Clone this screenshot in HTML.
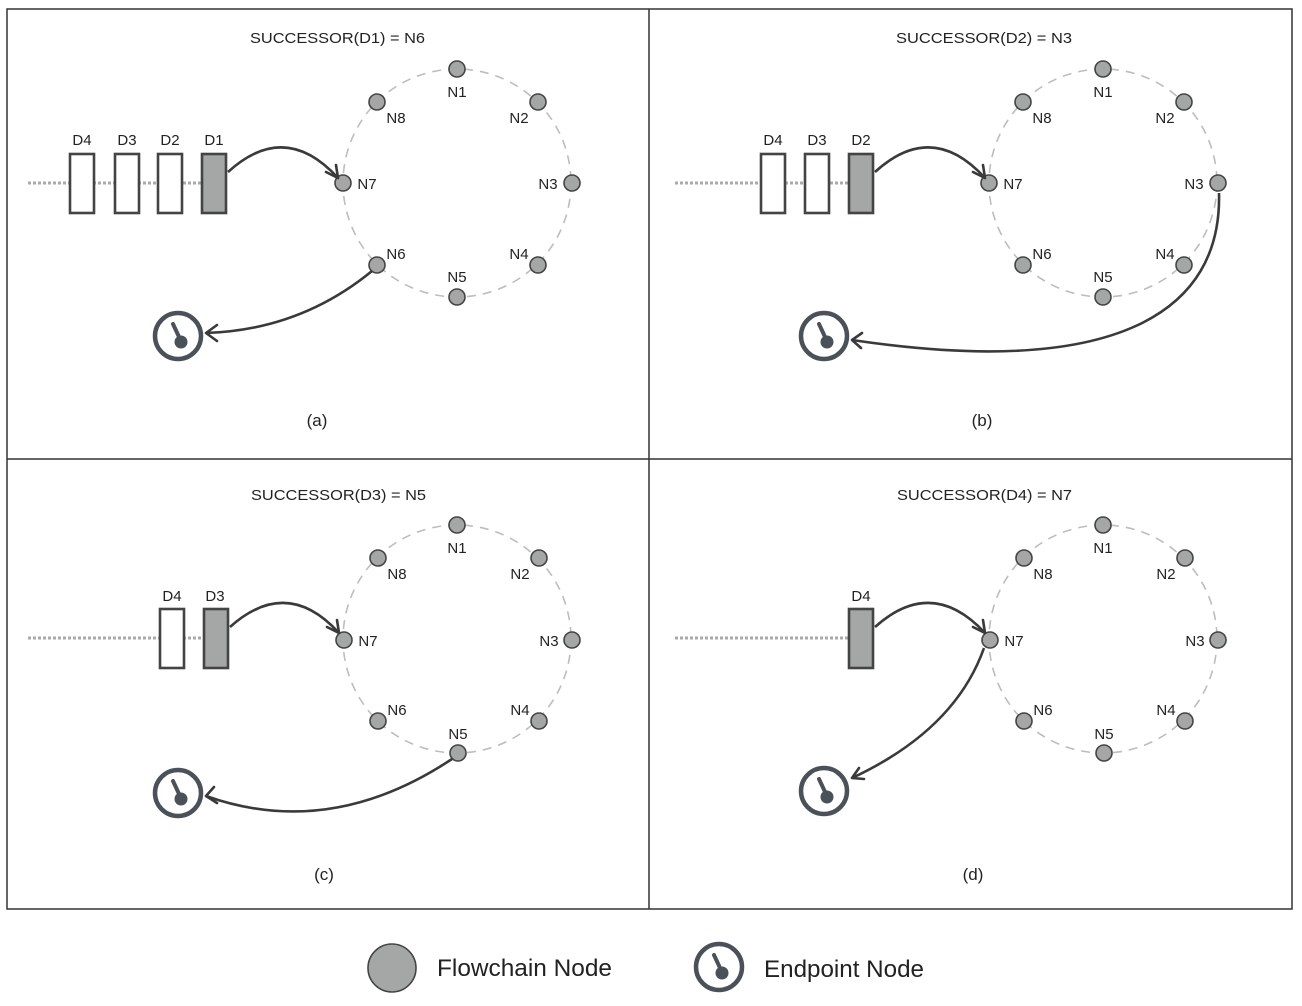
<!DOCTYPE html>
<html><head><meta charset="utf-8"><style>
html,body{margin:0;padding:0;background:#fff;}
svg{display:block;}
text{font-family:"Liberation Sans",sans-serif;fill:#222;}
.lbl{font-size:15px;}
.t{font-size:15px;}
.ring{fill:none;stroke:#bdbdbd;stroke-width:1.6;stroke-dasharray:9 7;}
.nd{fill:#a4a7a5;stroke:#444;stroke-width:1.6;}
.box{fill:#fff;stroke:#444;stroke-width:2.6;}
.boxf{fill:#a4a7a5;stroke:#444;stroke-width:2.6;}
.dot{stroke:#aaa;stroke-width:3;stroke-dasharray:3 2;}
.arr{fill:none;stroke:#3a3a3a;stroke-width:2.6;}
.ah{fill:none;stroke:#3a3a3a;stroke-width:2.6;stroke-linecap:round;stroke-linejoin:round;}
</style></head><body>
<svg width="1302" height="1006" viewBox="0 0 1302 1006" xmlns="http://www.w3.org/2000/svg">
<rect x="0" y="0" width="1302" height="1006" fill="#fff"/>
<rect x="7" y="9" width="1285" height="900" fill="none" stroke="#333" stroke-width="1.5"/>
<line x1="649" y1="9" x2="649" y2="909" stroke="#333" stroke-width="1.5"/>
<line x1="7" y1="459" x2="1292" y2="459" stroke="#333" stroke-width="1.5"/>

<!-- Panel a -->
<g transform="translate(457,183)">
<circle class="ring" r="114"/>
<circle class="nd" cx="0" cy="-114" r="8"/><circle class="nd" cx="81" cy="-81" r="8"/>
<circle class="nd" cx="115" cy="0" r="8"/><circle class="nd" cx="81" cy="82" r="8"/>
<circle class="nd" cx="0" cy="114" r="8"/><circle class="nd" cx="-80" cy="82" r="8"/>
<circle class="nd" cx="-114" cy="0" r="8"/><circle class="nd" cx="-80" cy="-81" r="8"/>
<text class="lbl" x="0" y="-86" text-anchor="middle">N1</text>
<text class="lbl" x="62" y="-60" text-anchor="middle">N2</text>
<text class="lbl" x="91" y="6" text-anchor="middle">N3</text>
<text class="lbl" x="62" y="76" text-anchor="middle">N4</text>
<text class="lbl" x="0" y="99" text-anchor="middle">N5</text>
<text class="lbl" x="-61" y="76" text-anchor="middle">N6</text>
<text class="lbl" x="-90" y="6" text-anchor="middle">N7</text>
<text class="lbl" x="-61" y="-60" text-anchor="middle">N8</text>
</g>
<text class="t" x="250" y="43" textLength="175" lengthAdjust="spacingAndGlyphs">SUCCESSOR(D1) = N6</text>
<line class="dot" x1="28" y1="183" x2="202" y2="183"/>
<rect class="box" x="70" y="154" width="24" height="59"/>
<rect class="box" x="115" y="154" width="24" height="59"/>
<rect class="box" x="158" y="154" width="24" height="59"/>
<rect class="boxf" x="202" y="154" width="24" height="59"/>
<text class="lbl" x="82" y="145" text-anchor="middle">D4</text>
<text class="lbl" x="127" y="145" text-anchor="middle">D3</text>
<text class="lbl" x="170" y="145" text-anchor="middle">D2</text>
<text class="lbl" x="214" y="145" text-anchor="middle">D1</text>
<path class="arr" d="M228,172 Q285,120 338,178"/>
<path class="ah" d="M326,172 L338,178 L336,165"/>
<path class="arr" d="M372,271 Q300,330 206,333"/>
<path class="ah" d="M217,325 L206,333 L217,341"/>
<text class="lbl" x="317" y="426" text-anchor="middle" style="font-size:17px">(a)</text>

<!-- Panel b -->
<g transform="translate(1103,183)">
<circle class="ring" r="114"/>
<circle class="nd" cx="0" cy="-114" r="8"/><circle class="nd" cx="81" cy="-81" r="8"/>
<circle class="nd" cx="115" cy="0" r="8"/><circle class="nd" cx="81" cy="82" r="8"/>
<circle class="nd" cx="0" cy="114" r="8"/><circle class="nd" cx="-80" cy="82" r="8"/>
<circle class="nd" cx="-114" cy="0" r="8"/><circle class="nd" cx="-80" cy="-81" r="8"/>
<text class="lbl" x="0" y="-86" text-anchor="middle">N1</text>
<text class="lbl" x="62" y="-60" text-anchor="middle">N2</text>
<text class="lbl" x="91" y="6" text-anchor="middle">N3</text>
<text class="lbl" x="62" y="76" text-anchor="middle">N4</text>
<text class="lbl" x="0" y="99" text-anchor="middle">N5</text>
<text class="lbl" x="-61" y="76" text-anchor="middle">N6</text>
<text class="lbl" x="-90" y="6" text-anchor="middle">N7</text>
<text class="lbl" x="-61" y="-60" text-anchor="middle">N8</text>
</g>
<text class="t" x="896" y="43" textLength="176" lengthAdjust="spacingAndGlyphs">SUCCESSOR(D2) = N3</text>
<line class="dot" x1="675" y1="183" x2="849" y2="183"/>
<rect class="box" x="761" y="154" width="24" height="59"/>
<rect class="box" x="805" y="154" width="24" height="59"/>
<rect class="boxf" x="849" y="154" width="24" height="59"/>
<text class="lbl" x="773" y="145" text-anchor="middle">D4</text>
<text class="lbl" x="817" y="145" text-anchor="middle">D3</text>
<text class="lbl" x="861" y="145" text-anchor="middle">D2</text>
<path class="arr" d="M875,172 Q932,120 985,178"/>
<path class="ah" d="M973,172 L985,178 L983,165"/>
<path class="arr" d="M1219,193 C1222,310 1120,380 852,340"/>
<path class="ah" d="M862,333 L852,340 L861,348"/>
<text class="lbl" x="982" y="426" text-anchor="middle" style="font-size:17px">(b)</text>

<!-- Panel c -->
<g transform="translate(457,639)">
<circle class="ring" r="114"/>
<circle class="nd" cx="0" cy="-114" r="8"/><circle class="nd" cx="82" cy="-81" r="8"/>
<circle class="nd" cx="115" cy="1" r="8"/><circle class="nd" cx="82" cy="82" r="8"/>
<circle class="nd" cx="1" cy="114" r="8"/><circle class="nd" cx="-79" cy="82" r="8"/>
<circle class="nd" cx="-113" cy="1" r="8"/><circle class="nd" cx="-79" cy="-81" r="8"/>
<text class="lbl" x="0" y="-86" text-anchor="middle">N1</text>
<text class="lbl" x="63" y="-60" text-anchor="middle">N2</text>
<text class="lbl" x="92" y="7" text-anchor="middle">N3</text>
<text class="lbl" x="63" y="76" text-anchor="middle">N4</text>
<text class="lbl" x="1" y="100" text-anchor="middle">N5</text>
<text class="lbl" x="-60" y="76" text-anchor="middle">N6</text>
<text class="lbl" x="-89" y="7" text-anchor="middle">N7</text>
<text class="lbl" x="-60" y="-60" text-anchor="middle">N8</text>
</g>
<text class="t" x="251" y="500" textLength="175" lengthAdjust="spacingAndGlyphs">SUCCESSOR(D3) = N5</text>
<line class="dot" x1="28" y1="638" x2="204" y2="638"/>
<rect class="box" x="160" y="609" width="24" height="59"/>
<rect class="boxf" x="204" y="609" width="24" height="59"/>
<text class="lbl" x="172" y="601" text-anchor="middle">D4</text>
<text class="lbl" x="215" y="601" text-anchor="middle">D3</text>
<path class="arr" d="M230,627 Q287,576 339,633"/>
<path class="ah" d="M327,627 L339,633 L337,620"/>
<path class="arr" d="M452,759 Q330,840 206,796"/>
<path class="ah" d="M214,787 L206,796 L217,803"/>
<text class="lbl" x="324" y="880" text-anchor="middle" style="font-size:17px">(c)</text>

<!-- Panel d -->
<g transform="translate(1103,639)">
<circle class="ring" r="114"/>
<circle class="nd" cx="0" cy="-114" r="8"/><circle class="nd" cx="82" cy="-81" r="8"/>
<circle class="nd" cx="115" cy="1" r="8"/><circle class="nd" cx="82" cy="82" r="8"/>
<circle class="nd" cx="1" cy="114" r="8"/><circle class="nd" cx="-79" cy="82" r="8"/>
<circle class="nd" cx="-113" cy="1" r="8"/><circle class="nd" cx="-79" cy="-81" r="8"/>
<text class="lbl" x="0" y="-86" text-anchor="middle">N1</text>
<text class="lbl" x="63" y="-60" text-anchor="middle">N2</text>
<text class="lbl" x="92" y="7" text-anchor="middle">N3</text>
<text class="lbl" x="63" y="76" text-anchor="middle">N4</text>
<text class="lbl" x="1" y="100" text-anchor="middle">N5</text>
<text class="lbl" x="-60" y="76" text-anchor="middle">N6</text>
<text class="lbl" x="-89" y="7" text-anchor="middle">N7</text>
<text class="lbl" x="-60" y="-60" text-anchor="middle">N8</text>
</g>
<text class="t" x="897" y="500" textLength="175" lengthAdjust="spacingAndGlyphs">SUCCESSOR(D4) = N7</text>
<line class="dot" x1="675" y1="638" x2="849" y2="638"/>
<rect class="boxf" x="849" y="609" width="24" height="59"/>
<text class="lbl" x="861" y="601" text-anchor="middle">D4</text>
<path class="arr" d="M875,627 Q932,576 985,633"/>
<path class="ah" d="M973,627 L985,633 L983,620"/>
<path class="arr" d="M984,648 Q955,730 852,778"/>
<path class="ah" d="M859,768 L852,778 L864,779"/>
<text class="lbl" x="973" y="880" text-anchor="middle" style="font-size:17px">(d)</text>

<!-- Endpoints -->
<g transform="translate(178,336)">
<circle r="23" fill="none" stroke="#4b5158" stroke-width="4.5"/>
<line x1="-5" y1="-12" x2="2" y2="3" stroke="#4b5158" stroke-width="4" stroke-linecap="round"/>
<circle cx="3" cy="6" r="6.5" fill="#4b5158"/>
</g>
<g transform="translate(824,336)">
<circle r="23" fill="none" stroke="#4b5158" stroke-width="4.5"/>
<line x1="-5" y1="-12" x2="2" y2="3" stroke="#4b5158" stroke-width="4" stroke-linecap="round"/>
<circle cx="3" cy="6" r="6.5" fill="#4b5158"/>
</g>
<g transform="translate(178,793)">
<circle r="23" fill="none" stroke="#4b5158" stroke-width="4.5"/>
<line x1="-5" y1="-12" x2="2" y2="3" stroke="#4b5158" stroke-width="4" stroke-linecap="round"/>
<circle cx="3" cy="6" r="6.5" fill="#4b5158"/>
</g>
<g transform="translate(824,791)">
<circle r="23" fill="none" stroke="#4b5158" stroke-width="4.5"/>
<line x1="-5" y1="-12" x2="2" y2="3" stroke="#4b5158" stroke-width="4" stroke-linecap="round"/>
<circle cx="3" cy="6" r="6.5" fill="#4b5158"/>
</g>
<g transform="translate(719,967)">
<circle r="23" fill="none" stroke="#4b5158" stroke-width="4.5"/>
<line x1="-5" y1="-12" x2="2" y2="3" stroke="#4b5158" stroke-width="4" stroke-linecap="round"/>
<circle cx="3" cy="6" r="6.5" fill="#4b5158"/>
</g>

<!-- Legend -->
<circle cx="392" cy="968" r="24" fill="#a4a7a5" stroke="#444" stroke-width="1.6"/>
<text x="437" y="976" style="font-size:24px" textLength="175" lengthAdjust="spacingAndGlyphs">Flowchain Node</text>
<text x="764" y="977" style="font-size:24px" textLength="160" lengthAdjust="spacingAndGlyphs">Endpoint Node</text>
</svg>
</body></html>
